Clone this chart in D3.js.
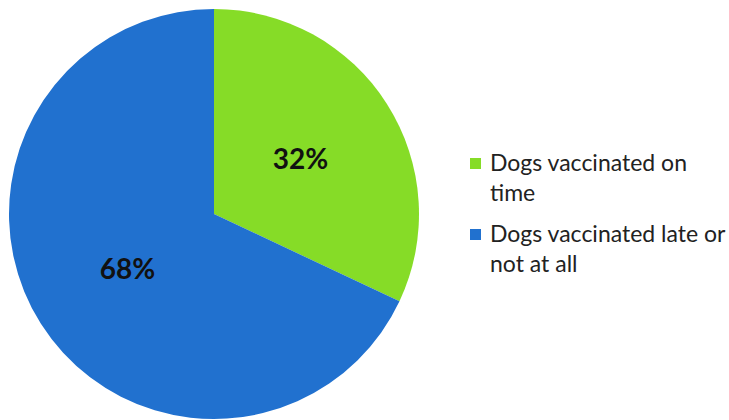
<!DOCTYPE html>
<html>
<head>
<meta charset="utf-8">
<script src="https://cdn.jsdelivr.net/npm/d3@7"></script>
<style>
  body { margin: 0; background: #fff; }
</style>
</head>
<body>
<div id="chart-area"></div>
<script>
var categories = ["Dogs vaccinated on time", "Dogs vaccinated late or not at all"];
var values = [32, 68];
var valueLabels = ["32%", "68%"];
var legendLines = [["Dogs vaccinated on", "time"], ["Dogs vaccinated late or", "not at all"]];
var colors = ["#86dc27", "#2171cf"];

var width = 729, height = 420;

var svg = d3.select("#chart-area")
    .append("svg")
        .attr("width", width)
        .attr("height", height);

var radius = 205;
var g = svg.append("g")
    .attr("transform", "translate(214,214)");

var data = categories.map((c, i) => ({ name: c, value: values[i], label: valueLabels[i], color: colors[i] }));

var pie = d3.pie()
    .sort(null)
    .value((d) => d.value);

var arc = d3.arc()
    .innerRadius(0)
    .outerRadius(radius);

var labelArc = d3.arc()
    .innerRadius(radius * 0.5)
    .outerRadius(radius * 0.5);

var slices = g.selectAll("g.slice")
    .data(pie(data))
    .enter()
    .append("g")
        .attr("class", "slice");

slices.append("path")
    .attr("d", arc)
    .attr("fill", (d) => d.data.color);

// labels in the middle of each slice
slices.append("text")
    .attr("transform", (d) => {
        var c = labelArc.centroid(d);
        return "translate(" + c[0] + "," + c[1] + ")";
    })
    .attr("text-anchor", "middle")
    .attr("dy", "0.36em")
    .attr("font-family", "Lato, sans-serif")
    .attr("font-weight", "bold")
    .attr("font-size", "28px")
    .attr("fill", "#111")
    .text((d) => d.data.label);

// legend
var legend = svg.append("g")
    .attr("transform", "translate(470,0)");

var entryY = [158, 229];

var entries = legend.selectAll("g.entry")
    .data(data)
    .enter()
    .append("g")
        .attr("class", "entry")
        .attr("transform", (d, i) => "translate(0," + entryY[i] + ")");

entries.append("rect")
    .attr("x", 0)
    .attr("y", 0)
    .attr("width", 11)
    .attr("height", 11)
    .attr("fill", (d) => d.color);

entries.append("text")
    .attr("font-family", "Lato, sans-serif")
    .attr("font-size", "23px")
    .attr("fill", "#222")
    .each(function(d, i) {
        var t = d3.select(this);
        legendLines[i].forEach((line, j) => {
            t.append("tspan")
                .attr("x", 20)
                .attr("y", 13 + j * 30)
                .text(line);
        });
    });
</script>
</body>
</html>
